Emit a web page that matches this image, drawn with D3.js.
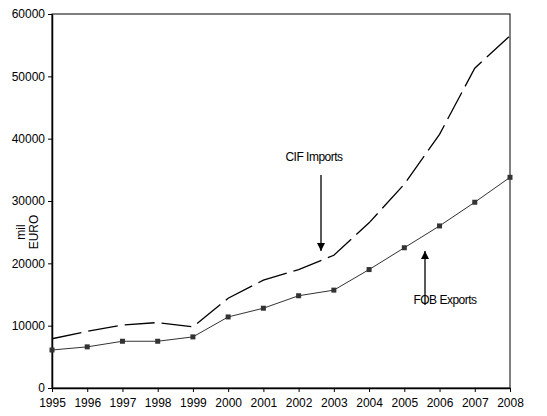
<!DOCTYPE html>
<html>
<head>
<meta charset="utf-8">
<script src="https://cdn.jsdelivr.net/npm/d3@7"></script>
<style>
  body { margin: 0; background: #fff; }
  text { font-family: "Liberation Sans", Arial, sans-serif; }
</style>
</head>
<body>
<div id="chart"></div>
<script>
// Years on the x axis
const years = [1995, 1996, 1997, 1998, 1999, 2000, 2001, 2002, 2003, 2004, 2005, 2006, 2007, 2008];

// CIF imports (dashed line), mil EURO
const cifImports = [7900, 9100, 10100, 10500, 9800, 14400, 17300, 19000, 21300, 26500, 32700, 40700, 51300, 56500];

// FOB exports (line with markers), mil EURO
const fobExports = [6100, 6600, 7500, 7500, 8200, 11400, 12800, 14800, 15700, 19000, 22500, 26000, 29800, 33800];

const yTicks = [0, 10000, 20000, 30000, 40000, 50000, 60000];

// Store width and height parameters
let svgWidth = 547;
let svgHeight = 416;

let margin = { top: 14, right: 37, bottom: 28, left: 52 };
let width = svgWidth - margin.left - margin.right;
let height = svgHeight - margin.top - margin.bottom;

let svg = d3.select("#chart")
    .append("svg")
    .attr("width", svgWidth)
    .attr("height", svgHeight);

let chartGroup = svg.append("g")
    .attr("transform", `translate(${margin.left}, ${margin.top})`);

// Scales
let xScale = d3.scaleLinear()
    .domain([years[0], years[years.length - 1]])
    .range([0, width]);

let yScale = d3.scaleLinear()
    .domain([0, 60000])
    .range([height, 0]);

// Plot area border (top and right edges)
chartGroup.append("rect")
    .attr("x", 0)
    .attr("y", 0)
    .attr("width", width)
    .attr("height", height)
    .attr("fill", "none")
    .attr("stroke", "#000")
    .attr("stroke-width", 1);

// Axes
let bottomAxis = d3.axisBottom(xScale)
    .tickValues(years)
    .tickFormat(d3.format("d"))
    .tickSizeInner(4)
    .tickSizeOuter(0)
    .tickPadding(6);

let leftAxis = d3.axisLeft(yScale)
    .tickValues(yTicks)
    .tickFormat(d3.format("d"))
    .tickSizeInner(4)
    .tickSizeOuter(0)
    .tickPadding(3);

let xAxisG = chartGroup.append("g")
    .attr("transform", `translate(0, ${height})`)
    .call(bottomAxis);

let yAxisG = chartGroup.append("g")
    .call(leftAxis);

[xAxisG, yAxisG].forEach(g => {
    g.select(".domain").attr("stroke", "#000").attr("stroke-width", 1.5);
    g.selectAll(".tick line").attr("stroke", "#000");
    g.selectAll(".tick text")
        .attr("fill", "#000")
        .style("font-size", "12px")
        .style("font-family", "'Liberation Sans', Arial, sans-serif");
});

// Lines
let line = d3.line()
    .x((d, i) => xScale(years[i]))
    .y(d => yScale(d));

chartGroup.append("path")
    .datum(cifImports)
    .attr("d", line)
    .attr("fill", "none")
    .attr("stroke", "#000")
    .attr("stroke-width", 1.3)
    .attr("stroke-dasharray", "30,7");

chartGroup.append("path")
    .datum(fobExports)
    .attr("d", line)
    .attr("fill", "none")
    .attr("stroke", "#333")
    .attr("stroke-width", 1);

chartGroup.selectAll(".marker")
    .data(fobExports)
    .enter()
    .append("rect")
    .attr("class", "marker")
    .attr("x", (d, i) => xScale(years[i]) - 2.5)
    .attr("y", d => yScale(d) - 2.5)
    .attr("width", 5)
    .attr("height", 5)
    .attr("fill", "#333");

// Arrow marker
svg.append("defs").append("marker")
    .attr("id", "arrow")
    .attr("viewBox", "0 0 10 10")
    .attr("refX", 10)
    .attr("refY", 5)
    .attr("markerWidth", 8)
    .attr("markerHeight", 8)
    .attr("markerUnits", "userSpaceOnUse")
    .attr("orient", "auto")
    .append("path")
    .attr("d", "M0,0 L10,5 L0,10 z")
    .attr("fill", "#000");

// Annotations
svg.append("text")
    .attr("x", 314)
    .attr("y", 161)
    .attr("text-anchor", "middle")
    .style("font-size", "12px")
    .style("letter-spacing", "-0.5px")
    .text("CIF Imports");

svg.append("line")
    .attr("x1", 321).attr("y1", 175)
    .attr("x2", 321).attr("y2", 251)
    .attr("stroke", "#000")
    .attr("stroke-width", 1.3)
    .attr("marker-end", "url(#arrow)");

svg.append("text")
    .attr("x", 445)
    .attr("y", 304)
    .attr("text-anchor", "middle")
    .style("font-size", "12px")
    .style("letter-spacing", "-0.5px")
    .text("FOB Exports");

svg.append("line")
    .attr("x1", 425).attr("y1", 305)
    .attr("x2", 425).attr("y2", 251)
    .attr("stroke", "#000")
    .attr("stroke-width", 1.3)
    .attr("marker-end", "url(#arrow)");

// Y axis title
svg.append("text")
    .attr("transform", "translate(25, 232) rotate(-90)")
    .attr("text-anchor", "middle")
    .style("font-size", "12px")
    .selectAll("tspan")
    .data(["mil", "EURO"])
    .enter()
    .append("tspan")
    .attr("x", 0)
    .attr("dy", (d, i) => i === 0 ? 0 : 13)
    .text(d => d);
</script>
</body>
</html>
